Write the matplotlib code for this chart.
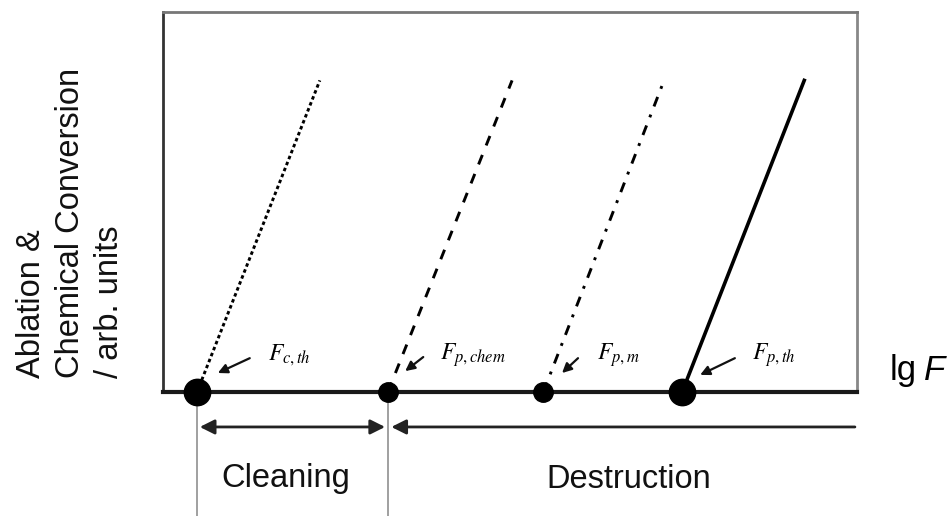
import matplotlib
matplotlib.use("Agg")
import matplotlib.pyplot as plt
from matplotlib.patches import FancyArrowPatch

plt.rcParams['font.family'] = ['Liberation Sans', 'DejaVu Sans']
plt.rcParams['mathtext.fontset'] = 'stix'

# Threshold fluences (lg F, arbitrary units) and the rise of each process
threshold_names = [r'$F_{c,th}$', r'$F_{p,chem}$', r'$F_{p,m}$', r'$F_{p,th}$']
threshold_x = [0.49, 3.24, 5.48, 7.48]
line_top_x = [2.26, 5.03, 7.22, 9.24]
line_top_y = [8.2, 8.2, 8.2, 8.2]
line_styles = [(0, (1.2, 1.0)), (0, (3.5, 3.5)), (0, (3.5, 3, 1, 3)), '-']
dot_sizes = [19, 14, 14, 19]
region_labels = ['Cleaning', 'Destruction']

W, H = 948, 516
fig = plt.figure(figsize=(W / 100, H / 100), dpi=100)
ax = fig.add_axes([163 / W, (H - 392) / H, (857 - 163) / W, (392 - 12) / H])
ax.set_xlim(0, 10)
ax.set_ylim(0, 10)
ax.set_xticks([])
ax.set_yticks([])
for side, col, lw in [('left', '#333333', 2.0), ('top', '#777777', 2.0),
                      ('right', '#888888', 2.0), ('bottom', '#1a1a1a', 3.0)]:
    ax.spines[side].set_color(col)
    ax.spines[side].set_linewidth(lw)

# Rising curves from each threshold
for x0, x1, y1, ls in zip(threshold_x, line_top_x, line_top_y, line_styles):
    ax.plot([x0, x1], [0, y1], color='black', linestyle=ls,
            linewidth=2.6 if ls == '-' else 2.1, clip_on=False)

# Threshold markers on the lg F axis
for x0, ms in zip(threshold_x, dot_sizes):
    ax.plot([x0], [0], 'o', color='black', markersize=ms, clip_on=False, zorder=5)

# Threshold labels with short pointer arrows
label_dx = [1.02, 0.75, 0.77, 1.01]
arrow_tail = [(0.76, 0.89), (0.51, 0.92), (0.50, 0.89), (0.76, 0.89)]
arrow_head = [(0.30, 0.50), (0.25, 0.55), (0.27, 0.50), (0.26, 0.45)]
for x0, name, dx, tail, head in zip(threshold_x, threshold_names, label_dx,
                                    arrow_tail, arrow_head):
    ax.text(x0 + dx, 0.97, name, fontsize=17, ha='left', va='center',
            style='italic')
    ax.add_patch(FancyArrowPatch((x0 + tail[0], tail[1]), (x0 + head[0], head[1]),
                                 arrowstyle='-|>', mutation_scale=14,
                                 color='#111111', linewidth=1.6,
                                 shrinkA=0, shrinkB=0, clip_on=False))

# Axis label on the right
ax.text(10.47, 0.32, 'lg', fontsize=25, ha='left', va='baseline',
        clip_on=False)
ax.text(10.97, 0.32, 'F', fontsize=25, ha='left', va='baseline',
        style='italic', clip_on=False)

# Cleaning / destruction regions below the axis
y_arrow = -0.92
for xb in threshold_x[:2]:
    ax.plot([xb, xb], [0, -3.4], color='#999999', linewidth=1.3, clip_on=False,
            zorder=1)
ax.add_patch(FancyArrowPatch((threshold_x[0] + 0.04, y_arrow),
                             (threshold_x[1] - 0.04, y_arrow),
                             arrowstyle='<|-|>', mutation_scale=22,
                             color='#222222', linewidth=2.0,
                             shrinkA=0, shrinkB=0, clip_on=False))
ax.add_patch(FancyArrowPatch((9.97, y_arrow), (threshold_x[1] + 0.05, y_arrow),
                             arrowstyle='-|>', mutation_scale=22,
                             color='#222222', linewidth=2.0,
                             shrinkA=0, shrinkB=0, clip_on=False))
ax.text((threshold_x[0] + threshold_x[1]) / 2 - 0.1, -2.27, region_labels[0],
        fontsize=23.5, ha='center', va='center', clip_on=False, color='#111111')
ax.text(6.71, -2.29, region_labels[1], fontsize=23.5, ha='center', va='center',
        clip_on=False, color='#111111')

# Rotated y-axis title, three lines
ylabel_lines = ['Ablation &', 'Chemical Conversion', '/ arb. units']
for i, line in enumerate(ylabel_lines):
    fig.text((40 + 39 * i) / W, (H - 378) / H, line, rotation=90,
             rotation_mode='anchor', ha='left', va='baseline', fontsize=23.5,
             color='#111111')

fig.savefig('out.png', dpi=100)
